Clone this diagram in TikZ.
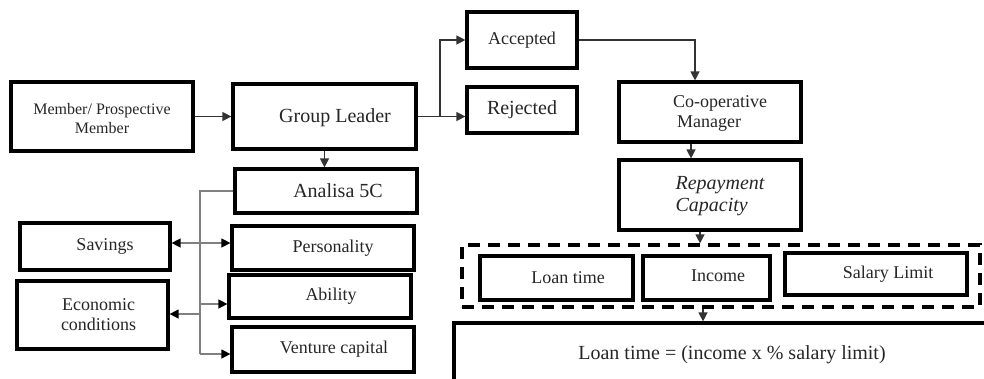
\documentclass[tikz,border=0pt]{standalone}
\usepackage{fontspec}
\setmainfont{Liberation Serif}
\usetikzlibrary{arrows.meta}
\begin{document}
\begin{tikzpicture}[x=1pt,y=-1pt,
  box/.style 2 args={draw=black,line width=3.2pt,minimum width=#1,minimum height=#2,inner sep=0pt},
  dbox/.style 2 args={draw=black,line width=3.2pt,dash pattern=on 12pt off 8pt,minimum width=#1,minimum height=#2,inner sep=0pt},
  f16/.style={font=\fontsize{16pt}{19pt}\selectfont,text=black!85,align=center},
  f18/.style={font=\fontsize{18pt}{20pt}\selectfont,text=black!85,align=center},
  f20/.style={font=\fontsize{20pt}{22pt}\selectfont,text=black!85,align=center},
  conn/.style={draw=black!80,line width=1.3pt,-{Triangle[length=9pt,width=9pt]}},
  bus/.style={draw=black!50,line width=1.3pt},
  busarrow/.style={bus,-{Triangle[length=9pt,width=9pt,color=black]}}
]
\useasboundingbox (0,0) rectangle (984,378);
\clip (0,0) rectangle (984,378);

% left column
\node[box={182pt}{69pt},label={[f16,yshift=-2pt]center:Member/ Prospective\\Member}] (mem) at (102,116.5) {};
\node[box={183pt}{65pt},label={[f20,xshift=10.5pt,yshift=-1pt]center:Group Leader}] (gl) at (324.5,116.5) {};
\node[box={182pt}{44pt},label={[f20,xshift=12pt]center:Analisa 5C}] (an) at (326,191) {};
\node[box={150pt}{47pt},label={[f18,xshift=10pt]center:Savings}] (sav) at (95,246.5) {};
\node[box={182pt}{44pt},label={[f18,xshift=10pt]center:Personality}] (per) at (323,248) {};
\node[box={182pt}{43pt},label={[f18,xshift=11pt]center:Ability}] (abi) at (320,296.5) {};
\node[box={182pt}{45pt},label={[f18,xshift=11pt]center:Venture capital}] (ven) at (323,349.5) {};
\node[box={151pt}{68pt},label={[f18,xshift=6pt]center:Economic\\conditions}] (eco) at (92.5,315) {};

% right part
\node[box={110pt}{56pt},label={[f18]center:Accepted}] (acc) at (522,40) {};
\node[box={110pt}{46pt},label={[f20]center:Rejected}] (rej) at (522,110) {};
\node[box={182pt}{60pt},label={[f18,align=left,xshift=10pt,yshift=-1pt]center:Co-operative\\\hspace*{4pt}Manager}] (coop) at (710,112) {};
\node[box={182pt}{70pt},label={[f20,align=left,xshift=10pt,yshift=-1pt,font=\fontsize{20pt}{22pt}\selectfont\itshape]center:Repayment\\Capacity}] (rep) at (710,195) {};
\node[dbox={518pt}{62pt}] (dsh) at (721,276) {};
\node[box={153pt}{44pt},label={[f18,xshift=11.5pt]center:Loan time}] (loan) at (556.5,278) {};
\node[box={127pt}{44pt},label={[f18,xshift=11.5pt,yshift=2pt]center:Income}] (inc) at (706.5,278) {};
\node[box={182pt}{42pt},label={[f18,xshift=12pt]center:Salary Limit}] (sal) at (876,274) {};
\node[box={546pt}{72pt},label={[f20,xshift=5pt,yshift=4pt]center:Loan time = (income x \% salary limit)}] (form) at (727,359) {};

% connectors
\draw[conn] (mem) -- (gl);
\coordinate (j) at (440,116.5);
\draw[conn] (gl.east) -- (gl.east -| rej.west);
\draw[conn] (j) |- (acc.west);
\draw[conn] (acc.east) -| ([xshift=-15pt]coop.north);
\draw[conn] (gl.south) -- (gl.south |- an.north);
\draw[conn] ([xshift=-19pt]coop.south) -- ([xshift=-19pt]rep.north);
\draw[conn] ([xshift=-10pt]rep.south) -- ([xshift=-10pt]rep.south |- dsh.north);
\draw[conn] ([xshift=-18pt]dsh.south) -- ([xshift=-18pt]dsh.south |- form.north);

% 5C bus
\coordinate (bt) at (200,354);
\coordinate (b1) at (200,243);
\coordinate (b2) at (200,304);
\coordinate (b3) at (200,314);
\draw[bus] (an.west) -| (bt);
\draw[busarrow] (bt) -- (bt -| ven.west);
\draw[busarrow] (b1) -- (b1 -| sav.east);
\draw[busarrow] (b1) -- (b1 -| per.west);
\draw[busarrow] (b2) -- (b2 -| abi.west);
\draw[busarrow] (b3) -- (b3 -| eco.east);
\end{tikzpicture}
\end{document}
